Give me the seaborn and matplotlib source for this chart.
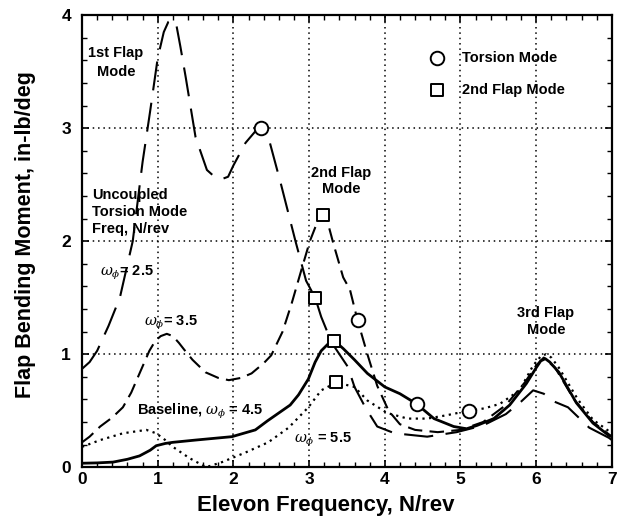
import matplotlib
matplotlib.use("Agg")
import matplotlib.pyplot as plt
import seaborn as sns
import pandas as pd
from matplotlib.ticker import MultipleLocator

# ---------------- data ----------------
x_w25 = [0.0, 0.1, 0.2, 0.35, 0.5, 0.67, 0.8, 0.9, 1.0, 1.08, 1.14, 1.2, 1.25, 1.3, 1.37,
         1.5, 1.65, 1.75, 1.85, 1.93, 2.0, 2.16, 2.3, 2.37, 2.45, 2.63, 2.82, 2.96, 3.08,
         3.16, 3.3, 3.51, 3.6, 3.75, 3.9, 4.13, 4.56, 4.95, 5.3, 5.6, 5.8, 5.96, 6.1,
         6.24, 6.42, 6.7, 6.96, 7.0]
y_w25 = [0.87, 0.93, 1.03, 1.25, 1.5, 2.0, 2.7, 3.15, 3.62, 3.85, 3.94, 3.96, 3.9, 3.72,
         3.45, 2.92, 2.63, 2.57, 2.55, 2.57, 2.67, 2.87, 2.98, 3.0, 2.95, 2.5, 2.0, 1.65,
         1.5, 1.33, 1.1, 0.89, 0.71, 0.52, 0.36, 0.30, 0.27, 0.31, 0.37, 0.47, 0.58, 0.68,
         0.65, 0.58, 0.53, 0.35, 0.26, 0.24]

x_w35 = [0.0, 0.1, 0.24, 0.4, 0.54, 0.65, 0.76, 0.89, 0.97, 1.04, 1.12, 1.2, 1.28, 1.35,
         1.46, 1.63, 1.8, 1.94, 2.1, 2.24, 2.4, 2.5, 2.65, 2.77, 2.9, 3.01, 3.08, 3.14,
         3.19, 3.24, 3.32, 3.45, 3.54, 3.64, 3.77, 3.9, 4.05, 4.2, 4.4, 4.7, 5.0, 5.3,
         5.6, 5.85, 6.0, 6.1, 6.25, 6.5, 6.75, 7.0]
y_w35 = [0.22, 0.27, 0.36, 0.44, 0.53, 0.66, 0.83, 1.03, 1.12, 1.16, 1.18, 1.16, 1.1,
         1.04, 0.95, 0.84, 0.79, 0.77, 0.79, 0.83, 0.92, 0.99, 1.2, 1.45, 1.75, 2.0,
         2.12, 2.2, 2.23, 2.18, 1.98, 1.68, 1.57, 1.30, 1.0, 0.72, 0.5, 0.38, 0.33, 0.31,
         0.33, 0.40, 0.55, 0.75, 0.9, 0.97, 0.88, 0.6, 0.4, 0.27]

x_base = [0.0, 0.2, 0.41, 0.6, 0.76, 0.9, 0.98, 1.1, 1.2, 1.5, 1.98, 2.29, 2.45, 2.6, 2.75,
          2.86, 2.99, 3.08, 3.16, 3.25, 3.33, 3.45, 3.6, 3.77, 4.0, 4.2, 4.42, 4.65, 4.91,
          5.08, 5.22, 5.44, 5.65, 5.87, 6.0, 6.06, 6.12, 6.18, 6.3, 6.53, 6.75, 6.96, 7.0]
y_base = [0.035, 0.038, 0.045, 0.07, 0.1, 0.15, 0.19, 0.21, 0.22, 0.24, 0.27, 0.33, 0.41,
          0.48, 0.55, 0.64, 0.78, 0.93, 1.03, 1.09, 1.12, 1.05, 0.95, 0.83, 0.71, 0.65,
          0.56, 0.43, 0.36, 0.34, 0.37, 0.43, 0.55, 0.74, 0.88, 0.94, 0.96, 0.93, 0.84,
          0.57, 0.39, 0.28, 0.27]

x_w55 = [0.0, 0.24, 0.54, 0.85, 0.98, 1.1, 1.2, 1.42, 1.64, 1.85, 2.16, 2.46, 2.73, 2.99,
         3.16, 3.36, 3.6, 3.77, 4.03, 4.3, 4.56, 4.82, 5.11, 5.31, 5.52, 5.78, 5.96, 6.06,
         6.13, 6.2, 6.3, 6.55, 6.75, 7.0]
y_w55 = [0.18, 0.24, 0.30, 0.33, 0.30, 0.24, 0.18, 0.08, 0.0, 0.045, 0.13, 0.22, 0.35,
         0.53, 0.68, 0.75, 0.71, 0.59, 0.48, 0.43, 0.43, 0.46, 0.5, 0.52, 0.56, 0.68, 0.9,
         0.98, 1.0, 0.97, 0.88, 0.6, 0.42, 0.3]

torsion_x = [2.37, 3.64, 4.42, 5.11]
torsion_y = [3.0, 1.30, 0.56, 0.5]
flap2_x = [3.08, 3.18, 3.33, 3.36]
flap2_y = [1.5, 2.23, 1.12, 0.75]

x_ticks = [0, 1, 2, 3, 4, 5, 6, 7]
y_ticks = [0, 1, 2, 3, 4]

# ---------------- plot ----------------
sns.set_style("white")
plt.rcParams["font.family"] = ["Liberation Sans", "DejaVu Sans"]
plt.rcParams["mathtext.fontset"] = "custom"
plt.rcParams["mathtext.rm"] = "Liberation Sans:bold"
plt.rcParams["mathtext.it"] = "DejaVu Serif:italic"
for k in ["text.color", "axes.labelcolor", "xtick.color", "ytick.color", "axes.edgecolor"]:
    plt.rcParams[k] = "black"

fig = plt.figure(figsize=(6.19, 5.22), dpi=100)
ax = fig.add_axes([0.1325, 0.105, 0.856, 0.866])

curves = [
    (x_w25, y_w25, (0, (14, 6)), 1.5),
    (x_w35, y_w35, (0, (7, 3.5)), 1.5),
    (x_base, y_base, "-", 2.0),
    (x_w55, y_w55, (0, (1, 2)), 1.6),
]
for xs, ys, ls, lw in curves:
    df = pd.DataFrame({"x": xs, "y": ys})
    sns.lineplot(data=df, x="x", y="y", ax=ax, color="black", linewidth=lw,
                 linestyle=ls, sort=False, estimator=None, zorder=3)

sns.scatterplot(x=torsion_x, y=torsion_y, ax=ax, marker="o", s=95,
                facecolor="white", edgecolor="black", linewidth=1.4, zorder=5)
sns.scatterplot(x=flap2_x, y=flap2_y, ax=ax, marker="s", s=80,
                facecolor="white", edgecolor="black", linewidth=1.4, zorder=5)

# legend (manual)
sns.scatterplot(x=[4.69], y=[3.62], ax=ax, marker="o", s=95, facecolor="white",
                edgecolor="black", linewidth=1.4, zorder=5)
sns.scatterplot(x=[4.69], y=[3.34], ax=ax, marker="s", s=80, facecolor="white",
                edgecolor="black", linewidth=1.4, zorder=5)
tkw = dict(fontsize=10.5, color="black", fontweight="bold")
ax.text(5.02, 3.62, "Torsion Mode", va="center", ha="left", **tkw)
ax.text(5.02, 3.34, "2nd Flap Mode", va="center", ha="left", **tkw)

# annotations
ax.text(0.45, 3.58, "1st Flap\nMode", ha="center", va="center", linespacing=1.4, **tkw)
ax.text(0.13, 2.26, "Uncoupled\nTorsion Mode\nFreq, N/rev", ha="left", va="center",
        linespacing=1.25, **tkw)
ax.text(0.24, 1.72, r"$\omega_\phi$= 2.5", ha="left", va="center", **tkw)
ax.text(0.82, 1.28, r"$\omega_\phi$= 3.5", ha="left", va="center", **tkw)
ax.text(0.72, 0.49, r"Baseline, $\omega_\phi$ = 4.5", ha="left", va="center", **tkw)
ax.text(2.8, 0.24, r"$\omega_\phi$ = 5.5", ha="left", va="center", **tkw)
ax.text(3.42, 2.53, "2nd Flap\nMode", ha="center", va="center", linespacing=1.2, **tkw)
ax.text(6.13, 1.29, "3rd Flap\nMode", ha="center", va="center", linespacing=1.2, **tkw)

ax.set_xlim(0, 7)
ax.set_ylim(0, 4)
ax.set_xticks(x_ticks)
ax.set_yticks(y_ticks)
ax.xaxis.set_minor_locator(MultipleLocator(0.2))
ax.yaxis.set_minor_locator(MultipleLocator(0.2))
ax.tick_params(which="both", direction="in", top=True, right=True, bottom=True, left=True,
               colors="black")
ax.tick_params(which="major", length=5, width=1.2, labelsize=12.5)
ax.tick_params(axis="y", which="major", pad=8)
ax.tick_params(which="minor", length=3.5, width=1.0)
for lab in ax.get_xticklabels() + ax.get_yticklabels():
    lab.set_fontweight("bold")
ax.grid(True, which="major", color="black", linestyle=(0, (1, 2.5)), linewidth=1.1)
for sp in ax.spines.values():
    sp.set_visible(True)
    sp.set_color("black")
    sp.set_linewidth(1.6)

ax.set_xlabel("Elevon Frequency, N/rev", fontsize=16, fontweight="bold")
ax.set_ylabel("Flap Bending Moment, in-lb/deg", fontsize=15.5, fontweight="bold")
ax.xaxis.set_label_coords(0.46, -0.062)
ax.yaxis.set_label_coords(-0.086, 0.515)

fig.savefig("out.png", dpi=100)
